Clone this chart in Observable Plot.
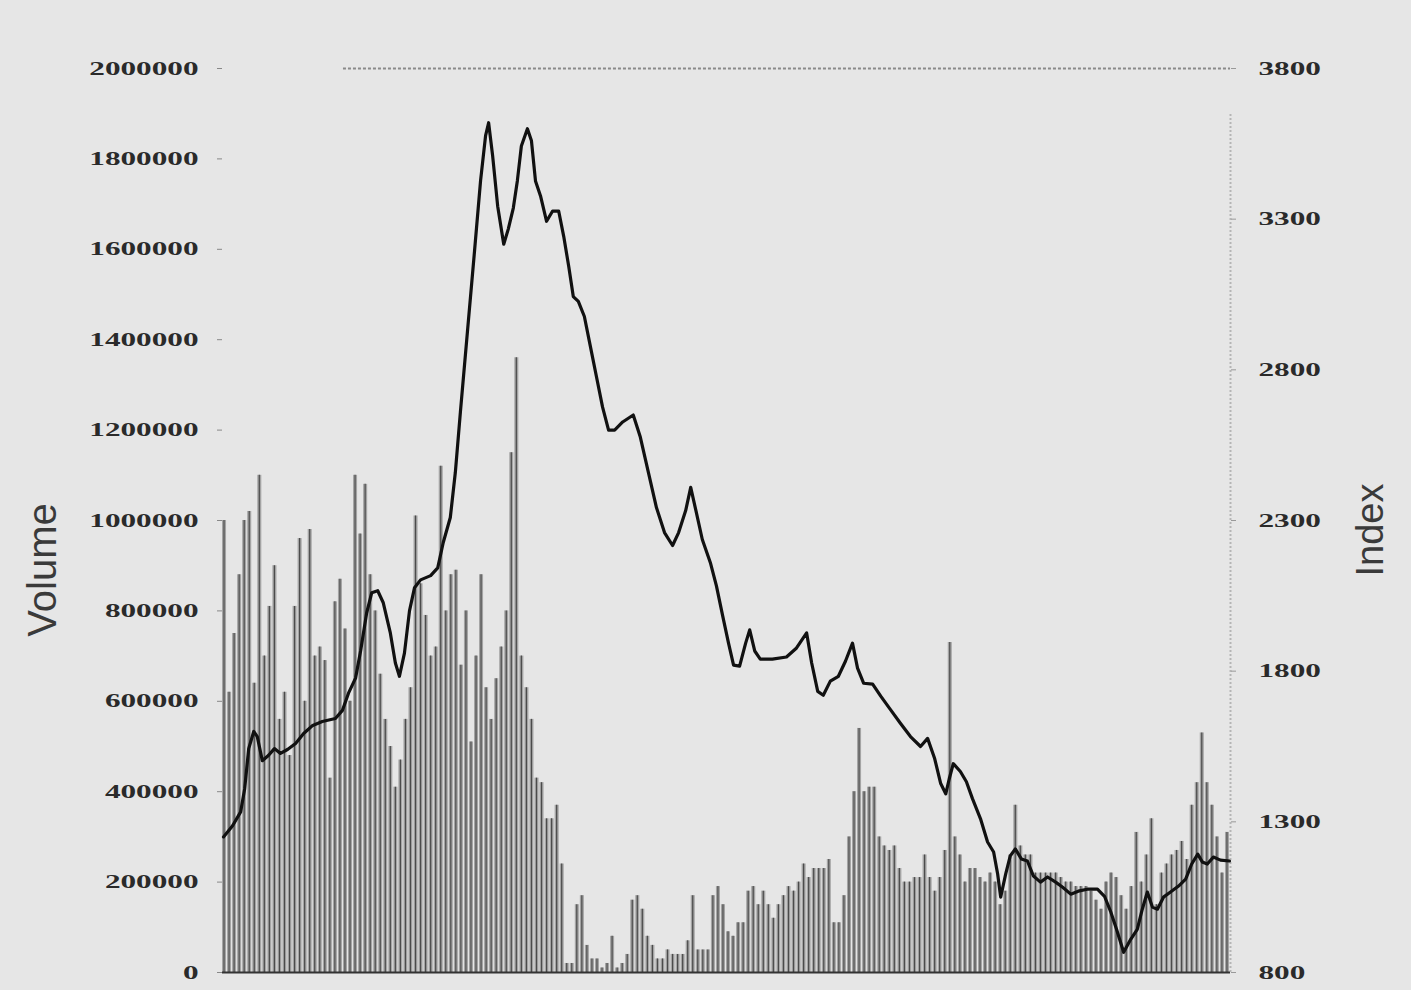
<!DOCTYPE html>
<html>
<head>
<meta charset="utf-8">
<script src="https://cdn.jsdelivr.net/npm/d3@7"></script>
<script src="https://cdn.jsdelivr.net/npm/@observablehq/plot@0.6"></script>
<style>
  html, body { margin: 0; padding: 0; background: #e6e6e6; }
  #chart { width: 1411px; height: 990px; }
  svg { background: #e6e6e6; }
</style>
</head>
<body>
<div id="chart"></div>
<script>
// Daily trading volume (thousands of shares), one value per trading day
const volumeK = [
  1000,620,750,880,1000,1020,640,1100,700,810,
  900,560,620,480,810,960,600,980,700,720,
  690,430,820,870,760,600,1100,970,1080,880,
  800,660,560,500,410,470,560,630,1010,860,
  790,700,720,1120,800,880,890,680,800,510,
  700,880,630,560,650,720,800,1150,1360,700,
  630,560,430,420,340,340,370,240,20,20,
  150,170,60,30,30,10,20,80,10,20,
  40,160,170,140,80,60,30,30,50,40,
  40,40,70,170,50,50,50,170,190,150,
  90,80,110,110,180,190,150,180,150,120,
  150,170,190,180,200,240,210,230,230,230,
  250,110,110,170,300,400,540,400,410,410,
  300,280,270,280,230,200,200,210,210,260,
  210,180,210,270,730,300,260,200,230,230,
  210,200,220,200,150,180,260,370,280,260,
  260,220,220,220,220,220,210,200,200,190,
  190,190,180,160,140,200,220,210,170,140,
  190,310,200,260,340,150,220,240,260,270,
  290,250,370,420,530,420,370,300,220,310
];

// Index line: trading day and index level
const lineDay = [0.2,2.0,3.6,4.4,5.2,6.2,6.9,7.9,9.1,10.3,11.5,12.9,14.5,16.1,17.9,19.8,22.4,23.8,25.0,26.4,27.4,28.6,29.6,30.8,31.9,33.3,34.3,35.1,36.1,37.1,38.1,39.3,41.3,42.7,43.8,45.2,46.2,47.2,48.6,50.0,51.2,52.2,52.8,53.6,54.6,55.8,56.7,57.7,58.5,59.3,60.5,61.3,62.1,63.1,64.3,65.5,66.7,67.7,68.7,69.6,70.6,71.8,73.0,74.2,75.4,76.6,77.8,79.4,81.5,82.9,84.5,86.1,87.7,89.3,90.5,91.9,92.9,93.8,95.2,96.8,98.0,99.2,100.4,101.4,102.6,103.8,104.6,105.6,106.7,109.1,111.9,113.9,115.9,116.9,118.1,119.2,120.6,122.2,123.6,125.0,126.0,127.2,129.0,130.6,132.5,134.5,136.5,138.5,139.9,141.3,142.5,143.5,144.2,145.0,146.4,147.6,148.8,150.4,151.8,153.0,153.8,154.4,155.4,156.3,157.3,158.5,159.7,160.9,162.3,163.7,165.3,166.7,168.3,169.8,171.8,173.6,175.0,176.2,177.4,178.8,180.2,181.5,182.5,183.5,184.5,185.5,186.7,188.1,189.7,191.1,192.3,193.5,194.4,195.4,196.6,198.0,199.8];
const lineIndex = [1250,1287,1333,1410,1543,1600,1583,1503,1520,1543,1527,1540,1560,1593,1620,1633,1643,1670,1727,1777,1867,1993,2060,2067,2027,1927,1827,1783,1860,2000,2077,2103,2117,2143,2227,2310,2460,2660,2927,3193,3427,3577,3620,3510,3343,3217,3267,3337,3427,3543,3600,3560,3427,3377,3293,3327,3327,3243,3143,3043,3027,2977,2877,2777,2677,2600,2600,2627,2650,2577,2460,2343,2260,2217,2260,2333,2410,2343,2237,2160,2083,1987,1893,1820,1817,1893,1937,1867,1840,1840,1847,1877,1927,1827,1733,1720,1767,1783,1833,1893,1810,1760,1757,1717,1673,1627,1583,1550,1577,1510,1427,1393,1443,1493,1467,1433,1377,1310,1233,1200,1127,1050,1127,1187,1210,1177,1170,1120,1100,1117,1100,1083,1060,1070,1077,1077,1053,1003,943,867,910,943,1010,1067,1017,1010,1050,1067,1087,1110,1160,1193,1167,1160,1183,1173,1170];

// Axis ticks
const volumeTicks = [0,200000,400000,600000,800000,1000000,1200000,1400000,1600000,1800000,2000000];
const indexTicks = [800,1300,1800,2300,2800,3300,3800];
const volumeMax = 2000000;
const indexMin = 800, indexMax = 3800;

// Tables built from the arrays
const bars = volumeK.map((v, i) => ({day: i, volume: v * 1000}));
const n = Math.min(lineDay.length, lineIndex.length);
const indexToVol = v => (v - indexMin) / (indexMax - indexMin) * volumeMax;
const volToIndex = v => Math.round(indexMin + v / volumeMax * (indexMax - indexMin));
const line = d3.range(n).map(i => ({day: lineDay[i], index: lineIndex[i]}));

const chart = Plot.plot({
  width: 1411,
  height: 990,
  marginLeft: 222,
  marginRight: 181,
  marginTop: 68,
  marginBottom: 18,
  style: {background: "#e6e6e6", fontFamily: "Liberation Serif", fontWeight: "bold", fontSize: "19px", color: "#2a2a2a"},
  x: {domain: [0, volumeK.length], axis: null},
  y: {domain: [0, volumeMax], axis: null},
  marks: [
    Plot.rectY(bars, {x1: "day", x2: d => d.day + 0.8, y: "volume", fill: "#a4a4a4"}),
    Plot.ruleX(bars, {x: d => d.day + 0.3, y1: 0, y2: "volume", stroke: "#3c3c3c", strokeWidth: 1.2, strokeOpacity: 0.85}),
    Plot.ruleY([volumeMax], {x1: 24, x2: volumeK.length, stroke: "#8a8a8a", strokeWidth: 2, strokeDasharray: "3,2"}),
    Plot.ruleX([volumeK.length], {y1: 0, y2: volumeMax * 0.95, stroke: "#b5b5b5", strokeWidth: 2, strokeDasharray: "2,2"}),
    Plot.ruleY([0], {stroke: "#333", strokeWidth: 2}),
    Plot.line(line, {x: "day", y: d => indexToVol(d.index), stroke: "#111", strokeWidth: 3.2, strokeLinejoin: "round"}),
    Plot.axisY({anchor: "left", ticks: volumeTicks, tickFormat: d => String(d), tickSize: 5, tickPadding: 19, stroke: "#888", label: null}),
    Plot.axisY({anchor: "right", ticks: indexTicks.map(indexToVol), tickFormat: v => String(volToIndex(v)), tickSize: 5, tickPadding: 23, stroke: "#999", label: null})
  ]
});

const svg = d3.select(chart);
svg.selectAll('g[aria-label="y-axis tick label"] text').each(function() {
  const t = this.textContent;
  this.setAttribute("textLength", t.length * 15.6);
  this.setAttribute("lengthAdjust", "spacingAndGlyphs");
});

// Axis titles
svg.append("text")
  .attr("transform", "translate(56,570) rotate(-90)")
  .attr("text-anchor", "middle")
  .attr("font-family", "Liberation Sans, Arial, sans-serif")
  .attr("font-size", 40)
  .attr("font-weight", "normal")
  .attr("fill", "#3a3a3a")
  .text("Volume");
svg.append("text")
  .attr("transform", "translate(1383,530) rotate(-90)")
  .attr("text-anchor", "middle")
  .attr("font-family", "Liberation Sans, Arial, sans-serif")
  .attr("font-size", 38)
  .attr("font-weight", "normal")
  .attr("fill", "#3a3a3a")
  .text("Index");

document.getElementById("chart").appendChild(chart);
</script>
</body>
</html>
